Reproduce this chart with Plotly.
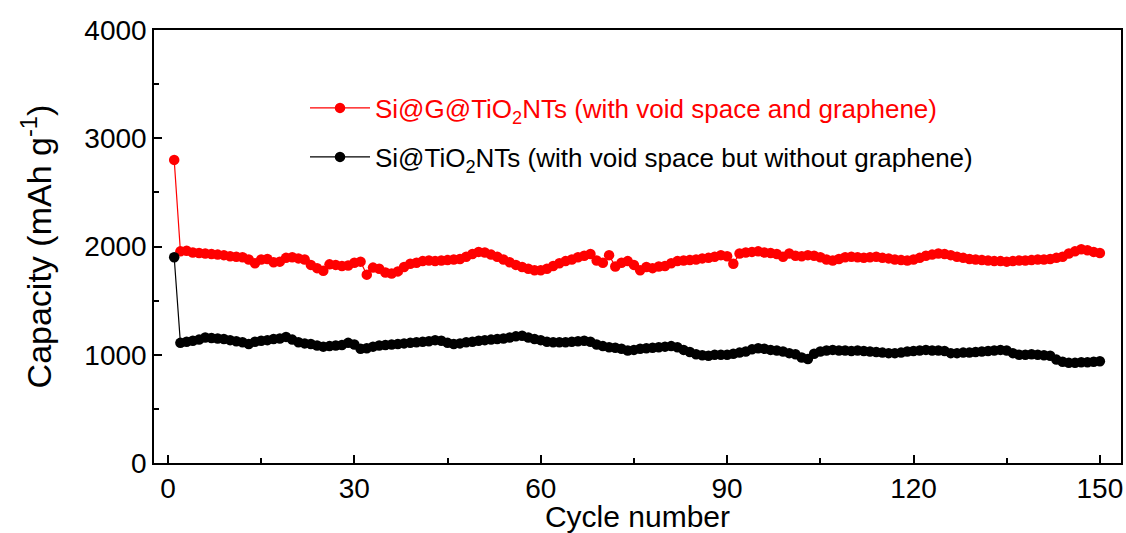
import plotly.graph_objects as go

# Cycle index
cycles = list(range(1, 151))

# Specific capacity (mAh g^-1) per cycle
cap_si_g_tio2 = [
    2800, 1955, 1960, 1945, 1940, 1935, 1930, 1925, 1920, 1910,
    1905, 1900, 1880, 1845, 1880, 1885, 1855, 1860, 1895, 1900,
    1890, 1880, 1830, 1800, 1775, 1835, 1830, 1820, 1825, 1850,
    1860, 1740, 1805, 1795, 1760, 1750, 1770, 1810, 1840, 1850,
    1865, 1870, 1865, 1870, 1875, 1880, 1885, 1905, 1930, 1950,
    1945, 1925, 1905, 1880, 1855, 1830, 1810, 1795, 1780, 1780,
    1795, 1820, 1845, 1865, 1880, 1900, 1915, 1930, 1870, 1850,
    1920, 1815, 1850, 1865, 1830, 1780, 1810, 1800, 1815, 1820,
    1845, 1865, 1870, 1875, 1880, 1890, 1895, 1905, 1920, 1910,
    1840, 1935, 1945, 1950, 1955, 1945, 1940, 1930, 1905, 1935,
    1915, 1910, 1920, 1915, 1900, 1880, 1870, 1885, 1900, 1905,
    1900, 1895, 1900, 1905, 1895, 1890, 1880, 1875, 1870, 1880,
    1895, 1915, 1925, 1935, 1930, 1920, 1905, 1895, 1885, 1880,
    1875, 1870, 1865, 1865, 1860, 1865, 1870, 1870, 1875, 1880,
    1880, 1885, 1895, 1905, 1935, 1955, 1975, 1965, 1950, 1940,
]

cap_si_tio2 = [
    1900, 1110, 1120, 1130, 1140, 1160, 1155, 1150, 1145, 1135,
    1125, 1115, 1100, 1120, 1130, 1135, 1145, 1150, 1165, 1140,
    1115, 1105, 1100, 1085, 1075, 1080, 1085, 1090, 1110, 1095,
    1055, 1060, 1075, 1085, 1090, 1095, 1100, 1105, 1110, 1115,
    1120, 1125, 1135, 1130, 1110, 1100, 1105, 1115, 1120, 1130,
    1135, 1140, 1145, 1150, 1160, 1170, 1175, 1160, 1145, 1135,
    1120, 1115, 1115, 1115, 1120, 1125, 1130, 1120, 1095, 1080,
    1070, 1065, 1055, 1040, 1045, 1055, 1060, 1065, 1070, 1075,
    1080, 1070, 1045, 1025, 1005, 995, 990, 1000, 1000, 1000,
    1010, 1020, 1030, 1050, 1060, 1055, 1045, 1040, 1030, 1015,
    1005, 975, 960, 1010, 1030, 1040, 1045, 1040, 1040, 1035,
    1040, 1035, 1030, 1025, 1020, 1015, 1015, 1020, 1030, 1035,
    1040, 1045, 1040, 1040, 1035, 1015, 1015, 1020, 1020, 1025,
    1030, 1035, 1040, 1045, 1040, 1015, 1000, 1000, 1005, 1000,
    995, 990, 955, 935, 925, 925, 930, 930, 935, 940,
]

names = [
    "Si@G@TiO<sub>2</sub>NTs (with void space and graphene)",
    "Si@TiO<sub>2</sub>NTs (with void space but without graphene)",
]
colors = ["#ff0000", "#000000"]

FONT = "Liberation Sans, Arial, sans-serif"

fig = go.Figure()
for i, (vals, name, col) in enumerate(zip([cap_si_g_tio2, cap_si_tio2], names, colors)):
    fig.add_trace(go.Scatter(
        x=cycles, y=vals, name=name,
        mode="lines+markers",
        line=dict(color=col, width=1.2),
        marker=dict(color=col, size=10.5, line=dict(width=0)),
        legend="legend" if i == 0 else "legend2",
    ))

axis_common = dict(
    showline=True, linecolor="black", linewidth=1.5, mirror=True,
    ticks="inside", ticklen=8, tickwidth=1.5, tickcolor="black",
    showgrid=False, zeroline=False,
    tickfont=dict(family=FONT, size=28, color="black"),
)

fig.update_xaxes(
    range=[-2.25, 153.4], tick0=0, dtick=30,
    minor=dict(ticks="inside", ticklen=5, tickwidth=1.5, tickcolor="black", dtick=15, tick0=0),
    title=dict(text="Cycle number", font=dict(family=FONT, size=30, color="black"), standoff=4),
    **axis_common,
)
fig.update_yaxes(
    range=[0, 4000], tick0=0, dtick=1000,
    minor=dict(ticks="inside", ticklen=5, tickwidth=1.5, tickcolor="black", dtick=500, tick0=0),
    title=dict(text="Capacity (mAh g<sup>-1</sup>)", font=dict(family=FONT, size=34, color="black"), standoff=22),
    **axis_common,
)

# Plot area spans x 154..1121 px and y 30..463 px
legend_common = dict(
    xref="paper", yref="paper", xanchor="left", yanchor="middle",
    bgcolor="rgba(0,0,0,0)", borderwidth=0, itemwidth=60,
)
fig.update_layout(
    width=1126, height=533,
    margin=dict(l=154, r=5, t=30, b=70, autoexpand=False),
    paper_bgcolor="white", plot_bgcolor="white",
    showlegend=True,
    legend=dict(x=(305 - 154) / 967, y=(463 - 108) / 433,
                font=dict(family=FONT, size=26, color="#ff0000"), **legend_common),
    legend2=dict(x=(305 - 154) / 967, y=(463 - 157) / 433,
                 font=dict(family=FONT, size=26, color="black"), **legend_common),
)

fig.write_html("out.html")
